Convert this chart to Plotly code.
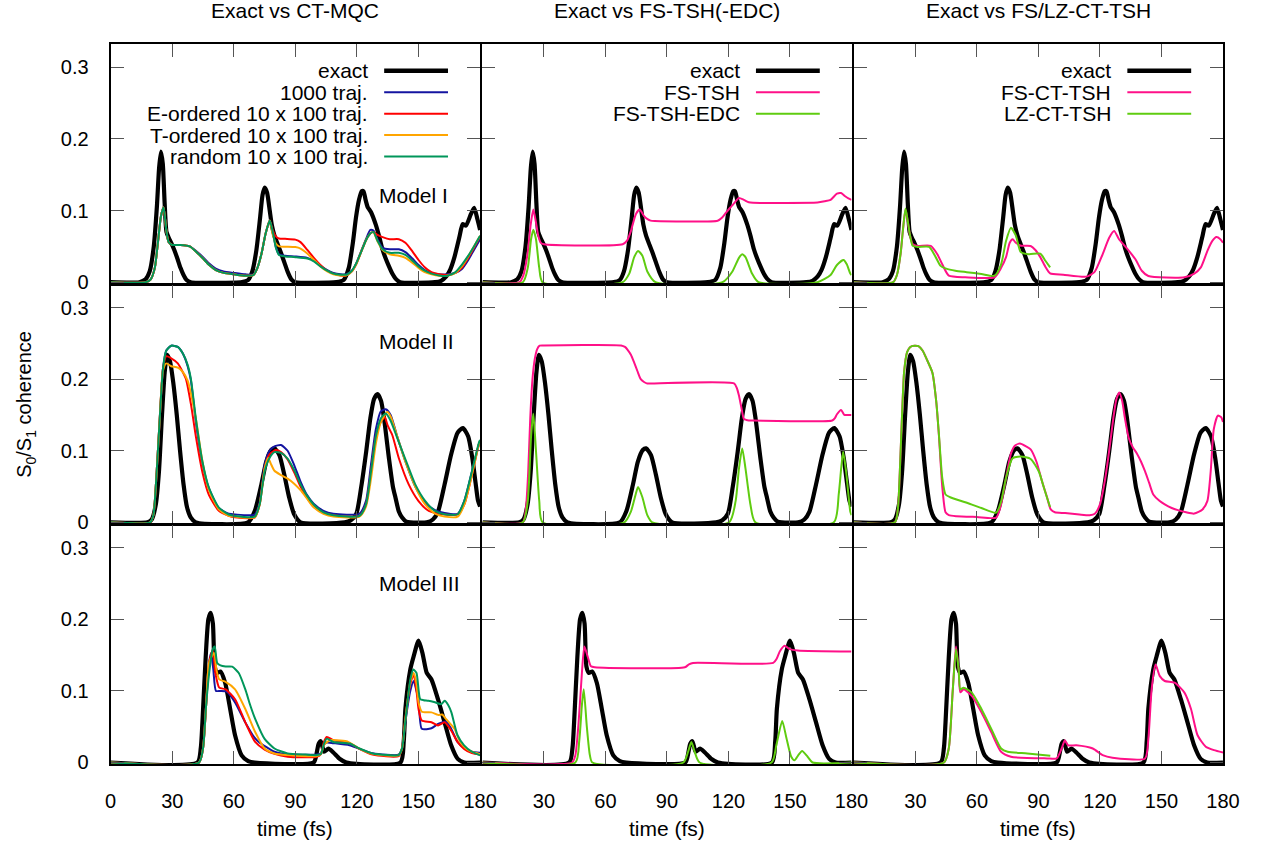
import plotly.graph_objects as go

# ---------------- data (time in fs, coherence) ----------------
X_TICKS = [0, 30, 60, 90, 120, 150, 180]
Y_TICKS = [0, 0.1, 0.2, 0.3]
Y_TICK_TEXT = ["0", "0.1", "0.2", "0.3"]
COL_TITLES = ["Exact vs CT-MQC", "Exact vs FS-TSH(-EDC)", "Exact vs FS/LZ-CT-TSH"]
MODEL_NAMES = ["Model I", "Model II", "Model III"]
LEGEND_COL1 = ["exact", "1000 traj.", "E-ordered 10 x 100 traj.", "T-ordered 10 x 100 traj.", "random 10 x 100 traj."]
LEGEND_COL2 = ["exact", "FS-TSH", "FS-TSH-EDC"]
LEGEND_COL3 = ["exact", "FS-CT-TSH", "LZ-CT-TSH"]

# ----- Model I -----
T_EXACT_1 = [0, 14, 17, 19, 21, 22.5, 23.6, 24.5, 25.4, 26.3, 27.2, 28.3, 29.5, 31, 32.5, 34, 35.5, 37, 39,
             64, 67, 69, 71, 72.8, 74, 75.1, 76.2, 77.5, 78.5, 79.8, 81.5, 83.1, 84.7, 86.3, 88, 90,
             110, 113.5, 116, 118, 119.5, 121, 122.3, 123.2, 124.2, 125.2, 126.8, 129.2, 130.8, 132.4, 134, 135.6, 137.2, 138.8, 141,
             158, 161, 163.5, 165.5, 167.5, 169.9, 171.5, 173.1, 175.5, 177.1, 178.7, 180]
Y_EXACT_1 = [0, 0, 0.004, 0.015, 0.05, 0.105, 0.16, 0.1825, 0.165, 0.11, 0.07, 0.062, 0.055, 0.045, 0.033, 0.02, 0.01, 0.003, 0,
             0, 0.003, 0.015, 0.045, 0.09, 0.122, 0.132, 0.125, 0.1, 0.08, 0.065, 0.052, 0.04, 0.027, 0.014, 0.004, 0,
             0, 0.003, 0.02, 0.055, 0.09, 0.115, 0.127, 0.127, 0.115, 0.105, 0.098, 0.08, 0.064, 0.046, 0.033, 0.022, 0.012, 0.005, 0,
             0, 0.002, 0.008, 0.018, 0.035, 0.063, 0.081, 0.079, 0.095, 0.104, 0.088, 0.073]

T_GREEN_1 = [0, 17, 19.5, 21.5, 23, 24.5, 25.8, 27, 28.2, 30, 34, 38.5, 41.5, 45, 48, 51.2, 55, 60, 65.6, 69.6,
             71.5, 73.5, 75.5, 77.5, 79, 80.5, 82, 85, 90, 95.8, 99, 102.2, 105.5, 108.5, 112, 114.9, 117.5, 119.6, 122, 124.4,
             126.5, 128, 130, 132.5, 136, 140.4, 143.6, 147, 150, 153, 156.3, 160, 164, 168, 171, 174, 177, 180]
Y_GREEN_1 = [0, 0, 0.004, 0.02, 0.055, 0.092, 0.1045, 0.075, 0.056, 0.052, 0.052, 0.05, 0.043, 0.033, 0.024, 0.017, 0.013, 0.011, 0.009, 0.01,
             0.02, 0.04, 0.068, 0.086, 0.07, 0.048, 0.038, 0.036, 0.035, 0.033, 0.029, 0.022, 0.016, 0.012, 0.0105, 0.0105, 0.016, 0.026, 0.042, 0.0587,
             0.068, 0.0702, 0.058, 0.046, 0.041, 0.041, 0.038, 0.03, 0.022, 0.016, 0.012, 0.0095, 0.009, 0.014, 0.024, 0.036, 0.05, 0.065]
T_BLUE_1 = T_GREEN_1
Y_BLUE_1 = [0, 0, 0.004, 0.02, 0.055, 0.092, 0.1045, 0.075, 0.056, 0.052, 0.052, 0.05, 0.044, 0.035, 0.026, 0.019, 0.015, 0.013, 0.011, 0.011,
            0.02, 0.04, 0.068, 0.086, 0.07, 0.049, 0.039, 0.037, 0.036, 0.034, 0.03, 0.023, 0.017, 0.013, 0.011, 0.011, 0.016, 0.026, 0.043, 0.06,
            0.073, 0.072, 0.06, 0.048, 0.046, 0.046, 0.042, 0.033, 0.024, 0.017, 0.013, 0.011, 0.011, 0.013, 0.018, 0.03, 0.045, 0.06]
T_RED_1 = [0, 17, 19.5, 21.5, 23, 24.5, 25.8, 27, 28.2, 30, 34, 38.5, 41.5, 45, 48, 51.2, 55, 60, 65.6, 69.6,
           71.5, 73.5, 75.5, 77.5, 79, 80.5, 82, 85, 90, 92.5, 95.8, 99, 102.2, 105.5, 108.5, 112, 114.9, 117.5, 119.6, 122,
           124.4, 126.5, 128, 130, 132.5, 136, 140.4, 143.6, 147, 150, 153, 156.3, 160, 164, 168, 171, 174, 177, 180]
Y_RED_1 = [0, 0, 0.004, 0.02, 0.055, 0.092, 0.1045, 0.075, 0.056, 0.052, 0.052, 0.05, 0.043, 0.033, 0.024, 0.017, 0.013, 0.011, 0.009, 0.01,
           0.02, 0.04, 0.068, 0.086, 0.072, 0.064, 0.061, 0.0605, 0.0595, 0.056, 0.045, 0.034, 0.024, 0.016, 0.012, 0.0095, 0.0095, 0.015, 0.025, 0.042,
           0.0587, 0.068, 0.0702, 0.066, 0.063, 0.06, 0.06, 0.055, 0.043, 0.031, 0.021, 0.014, 0.011, 0.01, 0.013, 0.02, 0.033, 0.048, 0.064]
T_ORANGE_1 = T_RED_1
Y_ORANGE_1 = [0, 0, 0.004, 0.02, 0.055, 0.092, 0.1045, 0.075, 0.056, 0.052, 0.052, 0.05, 0.043, 0.033, 0.024, 0.017, 0.013, 0.011, 0.009, 0.01,
              0.02, 0.04, 0.068, 0.086, 0.066, 0.054, 0.05, 0.0495, 0.049, 0.047, 0.04, 0.031, 0.022, 0.015, 0.011, 0.0095, 0.0095, 0.015, 0.025, 0.042,
              0.0587, 0.068, 0.07, 0.057, 0.045, 0.039, 0.037, 0.034, 0.027, 0.02, 0.014, 0.011, 0.009, 0.009, 0.013, 0.022, 0.035, 0.05, 0.065]

T_FS_1 = [0, 18, 20, 22, 23.5, 24.8, 26, 27.2, 28.5, 30, 68.4, 70.5, 72.4, 74.8, 76.7, 78.8, 80.5, 82, 84,
          114.7, 116.8, 118.7, 120.8, 122.7, 125.1, 127.5, 129.9, 132, 163.4, 167, 169.8, 172.9, 174.9, 176.9, 178.5, 180]
Y_FS_1 = [0, 0, 0.01, 0.04, 0.08, 0.1014, 0.085, 0.065, 0.055, 0.053, 0.053, 0.058, 0.0714, 0.095, 0.1014, 0.0922, 0.088, 0.086, 0.0855,
          0.0858, 0.09, 0.0968, 0.104, 0.110, 0.1176, 0.115, 0.1116, 0.111, 0.1112, 0.113, 0.115, 0.1236, 0.1245, 0.12, 0.117, 0.115]
T_EDC_1 = [0, 19.7, 22.1, 23.7, 24.8, 26.1, 27.7, 29.3, 68.4, 71.6, 74, 75.9, 78, 80.4, 84.4,
           117.1, 121.9, 125.1, 126.7, 128.3, 131.5, 134.6, 163.4, 169.8, 172.9, 176.1, 177.7, 179.4, 180]
Y_EDC_1 = [0, 0, 0.02, 0.06, 0.0734, 0.06, 0.02, 0, 0, 0.012, 0.035, 0.0437, 0.037, 0.015, 0,
           0, 0.015, 0.034, 0.0391, 0.035, 0.012, 0, 0, 0.01, 0.024, 0.031, 0.025, 0.012, 0.01]

T_FSCT_1 = [0, 19.2, 21, 22.8, 24, 25.2, 26.3, 27.4, 28.7, 31, 37.5, 40.7, 43.1, 46.3, 54.3, 68.6, 71.8, 74.2, 76, 77.4,
            79, 81.4, 86.2, 88.5, 90.9, 93.5, 95.7, 102.1, 113.3, 117.3, 121.3, 124.5, 126.9, 129.3, 132.5, 137.3, 140.4, 143.6, 161.2, 166,
            169.2, 172.4, 174.8, 176.8, 178.7, 180]
Y_FSCT_1 = [0, 0, 0.01, 0.04, 0.075, 0.1014, 0.085, 0.065, 0.053, 0.0507, 0.0507, 0.039, 0.025, 0.0091, 0.0069, 0.0069, 0.02, 0.035, 0.055, 0.06,
            0.055, 0.051, 0.0505, 0.045, 0.035, 0.021, 0.0123, 0.0105, 0.0078, 0.014, 0.039, 0.062, 0.0714, 0.06, 0.0493, 0.032, 0.016, 0.0086, 0.0069, 0.012,
            0.0207, 0.0437, 0.0576, 0.063, 0.06, 0.055]
T_LZCT_1 = [0, 19.2, 21, 22.8, 24, 25.2, 26.3, 27.4, 28.7, 31, 36.7, 39.9, 42.3, 45, 49.5, 55, 62.2, 68.6, 71.8, 74.2,
            76.6, 79, 81.4, 85.4, 90.9, 93.4, 95.7]
Y_LZCT_1 = [0, 0, 0.01, 0.04, 0.075, 0.1028, 0.085, 0.065, 0.0507, 0.0493, 0.0493, 0.035, 0.0228, 0.019, 0.016, 0.014, 0.0114, 0.0091, 0.025, 0.0576,
            0.076, 0.065, 0.042, 0.039, 0.04, 0.03, 0.0207]

# ----- Model II -----
T_EXACT_2 = [0, 18, 20, 22, 23.5, 25, 26.3, 27.5, 28.9, 30.5, 32.2, 33.8, 35.5, 37.2, 39, 41.5, 67, 70.2, 73.4, 75.8,
             78.2, 79.8, 82.2, 84.6, 87, 89.4, 92.5, 114, 117, 119.7, 122.1, 124.5, 126.5, 128.3, 130, 131.7, 133.2, 135.6, 137.5, 138.8,
             140.4, 142, 144, 146, 154, 157, 159.5, 162.7, 165.9, 169, 171.6, 174.2, 176.2, 177.8, 179, 180]
Y_EXACT_2 = [0, 0, 0.004, 0.025, 0.07, 0.15, 0.209, 0.234, 0.225, 0.195, 0.15, 0.1, 0.053, 0.021, 0.007, 0, 0, 0.0157, 0.0527, 0.0848,
             0.101, 0.1033, 0.094, 0.0665, 0.0343, 0.0113, 0, 0, 0.003, 0.012, 0.05, 0.099, 0.145, 0.172, 0.179, 0.17, 0.145, 0.089, 0.05, 0.034,
             0.015, 0.0067, 0.001, 0, 0, 0.004, 0.015, 0.053, 0.095, 0.125, 0.1317, 0.12, 0.09, 0.055, 0.03, 0.022]

T_GREEN_2 = [0, 19.2, 20.8, 22.4, 24, 25.5, 27.1, 29.5, 32.7, 35.1, 37.5, 39.1, 41.5, 44.7, 47.9, 52.7, 57.5, 60.6, 70.2, 72.6,
             75, 77.4, 79.8, 83, 86.2, 89.4, 92.5, 95.7, 98.9, 103.7, 108.5, 121.2, 124.4, 126.8, 129.2, 131.6, 134, 136.4, 139.6, 143.6,
             148.4, 153.2, 158, 162.7, 169.1, 172.3, 175.5, 179.5, 180]
Y_GREEN_2 = [0, 0, 0.01, 0.07, 0.15, 0.215, 0.24, 0.2467, 0.245, 0.236, 0.22, 0.2, 0.145, 0.085, 0.048, 0.0205, 0.011, 0.009, 0.008, 0.025,
             0.071, 0.09, 0.098, 0.097, 0.089, 0.073, 0.053, 0.037, 0.025, 0.014, 0.01, 0.009, 0.025, 0.07, 0.12, 0.145, 0.152, 0.142, 0.118, 0.088,
             0.053, 0.03, 0.016, 0.0113, 0.0113, 0.03, 0.065, 0.112, 0.115]
T_BLUE_2 = T_GREEN_2
Y_BLUE_2 = [0, 0, 0.01, 0.07, 0.15, 0.215, 0.24, 0.2467, 0.245, 0.236, 0.218, 0.198, 0.14, 0.082, 0.047, 0.02, 0.012, 0.011, 0.011, 0.028,
            0.08, 0.1, 0.106, 0.108, 0.1, 0.08, 0.057, 0.038, 0.026, 0.016, 0.012, 0.012, 0.03, 0.08, 0.13, 0.155, 0.158, 0.15, 0.12, 0.085,
            0.05, 0.028, 0.017, 0.013, 0.012, 0.03, 0.065, 0.11, 0.113]
T_RED_2 = [0, 19.2, 20.8, 22.4, 24, 25.5, 27.1, 29.5, 32.7, 35.1, 36.7, 39.1, 41.5, 44.7, 47.9, 52.7, 57.5, 60.6, 70.2, 72.6,
           75, 77.4, 80.5, 83, 86.2, 89.4, 92.5, 95.7, 98.9, 103.7, 108.5, 121.2, 124.4, 126.8, 129.2, 131.6, 133.5, 135, 137.2, 140.4,
           145.2, 150, 155, 162.7, 169.1, 172.3, 175.5, 179.5, 180]
Y_RED_2 = [0, 0, 0.01, 0.07, 0.15, 0.215, 0.232, 0.229, 0.222, 0.21, 0.2, 0.165, 0.12, 0.07, 0.038, 0.016, 0.009, 0.007, 0.007, 0.025,
           0.075, 0.095, 0.101, 0.098, 0.088, 0.07, 0.05, 0.034, 0.022, 0.013, 0.01, 0.009, 0.025, 0.07, 0.12, 0.14, 0.147, 0.135, 0.122, 0.0895,
           0.053, 0.0297, 0.016, 0.011, 0.011, 0.025, 0.06, 0.11, 0.113]
T_ORANGE_2 = [0, 19.2, 20.8, 22.4, 24, 25.5, 27.1, 29.5, 32.7, 35.1, 37.5, 39.1, 41.5, 44.7, 47.9, 52.7, 57.5, 60.6, 70.2, 72.6,
              75, 76.7, 78, 79.8, 83, 86.2, 89.4, 92.5, 95.7, 98.9, 103.7, 108.5, 121.2, 124.4, 126.8, 129.2, 131.6, 134.8, 136.4, 139.6,
              143.6, 148.4, 153.2, 158, 162.7, 169.1, 172.3, 175.5, 179.5, 180]
Y_ORANGE_2 = [0, 0, 0.01, 0.07, 0.15, 0.212, 0.222, 0.218, 0.216, 0.21, 0.198, 0.18, 0.145, 0.085, 0.045, 0.018, 0.009, 0.008, 0.007, 0.025,
              0.075, 0.09, 0.082, 0.072, 0.066, 0.061, 0.054, 0.045, 0.033, 0.021, 0.012, 0.008, 0.008, 0.022, 0.06, 0.11, 0.14, 0.154, 0.148, 0.12,
              0.085, 0.05, 0.025, 0.012, 0.008, 0.008, 0.025, 0.06, 0.11, 0.113]

T_FS_2 = [0, 19.7, 21.2, 22.3, 23.3, 24.4, 25.5, 26.7, 27.9, 30, 67.6, 69.5, 70.8, 72.4, 74, 75.6, 77.2, 78.8, 80.4, 82.5,
          122.7, 124, 125.1, 126.3, 127.5, 128.7, 129.9, 132, 170.6, 172, 172.9, 174.9, 176.5, 178, 180]
Y_FS_2 = [0, 0, 0.02, 0.07, 0.145, 0.2, 0.228, 0.242, 0.2467, 0.247, 0.247, 0.245, 0.241, 0.234, 0.223, 0.211, 0.2, 0.196, 0.1939, 0.194,
          0.194, 0.188, 0.177, 0.16, 0.1446, 0.143, 0.1423, 0.1423, 0.1423, 0.146, 0.151, 0.157, 0.1502, 0.15, 0.15]
T_EDC_2 = [0, 19.7, 22.1, 23.7, 24.8, 26.1, 27.7, 29.3, 69.2, 72.4, 74.8, 75.9, 78, 80.4, 82.8,
           120.3, 123.5, 125.1, 126.7, 128.3, 130.7, 133.1, 171.4, 173.8, 175.9, 177.4, 179.4, 180]
Y_EDC_2 = [0, 0, 0.03, 0.12, 0.1516, 0.1, 0.03, 0, 0, 0.015, 0.04, 0.0495, 0.035, 0.01, 0,
           0, 0.03, 0.075, 0.1033, 0.075, 0.025, 0, 0, 0.04, 0.0986, 0.07, 0.015, 0.01]

T_FSCT_2 = [0, 20, 21.5, 22.4, 23.5, 24.5, 26, 27.5, 29.5, 31.5, 33.5, 35.5, 38.3, 40.2, 41.5, 43.1, 44.7, 46.3, 50, 60,
            69.4, 71.8, 74.2, 76.5, 78.5, 81, 84, 86.2, 89, 92, 94.2, 96, 98, 103, 110, 115, 117.5, 120, 122.5, 124.5,
            126.5, 128, 129.4, 130.8, 132.2, 134.1, 136, 138, 140, 142, 144, 146, 149, 151.6, 155, 158, 162, 166, 170, 172.4,
            174, 175.5, 177.5, 179.1, 180]
Y_FSCT_2 = [0, 0, 0.02, 0.07, 0.15, 0.21, 0.238, 0.245, 0.2467, 0.246, 0.24, 0.228, 0.209, 0.168, 0.12, 0.05, 0.014, 0.01, 0.0085, 0.0075,
            0.0067, 0.025, 0.062, 0.095, 0.107, 0.11, 0.106, 0.102, 0.085, 0.055, 0.035, 0.018, 0.014, 0.013, 0.011, 0.01, 0.012, 0.025, 0.06, 0.1,
            0.145, 0.172, 0.1815, 0.17, 0.145, 0.117, 0.105, 0.0962, 0.085, 0.0711, 0.055, 0.0389, 0.03, 0.025, 0.02, 0.017, 0.014, 0.0122, 0.018, 0.03,
            0.071, 0.13, 0.149, 0.147, 0.14]
T_LZCT_2 = [0, 20, 21.5, 22.4, 23.5, 24.5, 26, 27.5, 29.5, 31.5, 33.5, 35.5, 38.3, 40.2, 41.5, 43.1, 44.7, 47, 54.3, 62.2,
            69.4, 71.8, 74.2, 77.4, 81.4, 86.2, 90.2, 92.5, 94.2, 95.7]
Y_LZCT_2 = [0, 0, 0.02, 0.07, 0.15, 0.21, 0.238, 0.245, 0.2467, 0.246, 0.24, 0.228, 0.209, 0.168, 0.122, 0.062, 0.0389, 0.035, 0.028, 0.02,
            0.0136, 0.029, 0.062, 0.0895, 0.0918, 0.0885, 0.071, 0.05, 0.0343, 0.0214]

# ----- Model III -----
T_EXACT_3 = [0, 42.3, 43.9, 44.7, 46.3, 47.6, 48.7, 49.8, 50.7, 51.9, 53.5, 55.8, 58.2, 60.6, 63.8, 67, 70.2, 98.9, 100.5, 101.3,
             102.4, 104, 106.1, 108.5, 111.7, 114.9, 141.2, 142.8, 143.6, 146, 147.6, 150, 151.9, 154, 156.3, 159.5, 162.7, 165.9, 169.1, 172.3, 180]
Y_EXACT_3 = [0, 0, 0.02, 0.056, 0.148, 0.2, 0.209, 0.194, 0.134, 0.125, 0.127, 0.111, 0.075, 0.038, 0.01, 0.002, 0, 0, 0.015, 0.026,
             0.0297, 0.015, 0.0195, 0.014, 0.0048, 0, 0, 0.03, 0.075, 0.13, 0.148, 0.1703, 0.153, 0.125, 0.116, 0.088, 0.056, 0.024, 0.005, 0, 0]

T_GREEN_3 = [0, 43, 45, 46.5, 48, 49.6, 50.7, 51.9, 53.5, 56, 59.2, 62.4, 65.6, 68, 70.4, 75, 79.8, 86.2, 95, 100.5,
             102.5, 103.8, 105.3, 108.5, 116.4, 121.2, 127.6, 135, 140.3, 142, 143.5, 146, 147.5, 149, 150.8, 152.5, 154.8, 158, 161.1, 162.7,
             164.5, 166, 169, 172.2, 176, 180]
Y_GREEN_3 = [0, 0, 0.02, 0.08, 0.125, 0.157, 0.162, 0.139, 0.1355, 0.134, 0.1338, 0.125, 0.102, 0.08, 0.061, 0.033, 0.0195, 0.0126, 0.011, 0.0103,
             0.012, 0.025, 0.0333, 0.0287, 0.0264, 0.0195, 0.0126, 0.0105, 0.0103, 0.02, 0.056, 0.116, 0.1298, 0.125, 0.0884, 0.087, 0.0861, 0.084, 0.0815, 0.0861,
             0.08, 0.07, 0.038, 0.024, 0.015, 0.01]
T_BLUE_3 = [0, 43, 45, 46.5, 48, 48.9, 50, 51.3, 53.5, 56.5, 60.6, 65.6, 70, 72, 79.8, 86.2, 100.5, 102.5, 103.8, 105.3,
            108.5, 116.4, 121.2, 127.6, 140.3, 142, 143.5, 146, 147.6, 149, 150, 151.6, 156.3, 159.5, 163.5, 165.9, 169, 172.2, 176, 180]
Y_BLUE_3 = [0, 0, 0.02, 0.08, 0.14, 0.153, 0.13, 0.1, 0.1, 0.099, 0.084, 0.056, 0.035, 0.029, 0.015, 0.0112, 0.0112, 0.013, 0.025, 0.028,
            0.027, 0.024, 0.019, 0.013, 0.011, 0.02, 0.055, 0.1, 0.1138, 0.1, 0.088, 0.047, 0.0479, 0.0538, 0.0571, 0.047, 0.0287, 0.02, 0.015, 0.0135]
T_RED_3 = [0, 43, 45, 46.5, 48, 49.7, 51, 52.9, 56, 60.6, 65.6, 70.4, 75, 79.8, 86.2, 100.5, 102.5, 103.8, 105.3, 108.5,
           116.4, 121.2, 127.6, 140.3, 142, 143.5, 146, 147.6, 149, 150, 151.6, 156.3, 159.5, 162.7, 165.9, 169, 172.2, 176, 180]
Y_RED_3 = [0, 0, 0.02, 0.08, 0.14, 0.157, 0.125, 0.1045, 0.1022, 0.0884, 0.056, 0.0287, 0.018, 0.012, 0.0081, 0.008, 0.012, 0.028, 0.0356, 0.031,
           0.027, 0.019, 0.011, 0.009, 0.02, 0.06, 0.11, 0.1229, 0.1, 0.0747, 0.0585, 0.0562, 0.0516, 0.0562, 0.0447, 0.0287, 0.019, 0.013, 0.011]
T_ORANGE_3 = [0, 43, 45, 46.5, 48, 50.4, 51.5, 52.9, 56, 60.6, 65.6, 70.4, 75, 79.8, 86.2, 100.5, 102.5, 104, 106.9, 110,
              114.9, 118, 121.2, 127.6, 140.3, 142, 143.5, 146, 147.6, 149, 150, 151.6, 156.3, 159.5, 161.5, 163, 167.5, 170, 173, 176, 180]
Y_ORANGE_3 = [0, 0, 0.02, 0.08, 0.14, 0.153, 0.13, 0.116, 0.1127, 0.1022, 0.0747, 0.0425, 0.0195, 0.0125, 0.0103, 0.009, 0.012, 0.025, 0.031, 0.031,
              0.0297, 0.025, 0.0195, 0.012, 0.01, 0.02, 0.058, 0.113, 0.125, 0.11, 0.0838, 0.0709, 0.07, 0.0665, 0.067, 0.062, 0.047, 0.03, 0.02, 0.015, 0.0115]

T_FS_3 = [0, 43.7, 45.3, 46.9, 48.5, 49.7, 51.3, 52.9, 54.8, 98.7, 100.7, 102.7, 141.8, 143.5, 145, 147.4, 149.8, 153.8, 180]
Y_FS_3 = [0, 0, 0.01, 0.0562, 0.125, 0.162, 0.148, 0.1344, 0.133, 0.133, 0.137, 0.139, 0.139, 0.145, 0.1551, 0.163, 0.1583, 0.1565, 0.1551]
T_EDC_3 = [0, 45.3, 47.2, 48.5, 49.4, 50.9, 52.4, 53.6, 98, 100.3, 101.9, 103.5, 105.9,
           141, 143.4, 146.2, 148.2, 150.6, 152.2, 154, 155.9, 158.6, 161, 180]
Y_EDC_3 = [0, 0, 0.03, 0.08, 0.1023, 0.05, 0.01, 0, 0, 0.015, 0.0286, 0.015, 0,
           0, 0.025, 0.058, 0.035, 0.008, 0.003, 0.01, 0.016, 0.008, 0, 0]

T_FSCT_3 = [0, 43.9, 46.3, 48.2, 49.8, 51.1, 51.9, 53.5, 57.5, 62.2, 67, 71.8, 76.6, 94.2, 98.9, 101.3, 102.9, 104.5, 108.5, 116.5,
            121.3, 126.1, 142, 143.6, 145.2, 147.1, 149.2, 151.6, 156.4, 161.2, 164.4, 167.6, 171.6, 175.6, 180]
Y_FSCT_3 = [0, 0, 0.02, 0.1, 0.162, 0.13, 0.098, 0.1022, 0.093, 0.07, 0.0424, 0.0149, 0.008, 0.0057, 0.0057, 0.0195, 0.031, 0.024, 0.024, 0.0195,
            0.0103, 0.0066, 0.0057, 0.033, 0.1022, 0.1367, 0.1206, 0.1138, 0.1115, 0.0976, 0.0747, 0.038, 0.022, 0.0172, 0.014]
T_LZCT_3 = [0, 43.9, 46.3, 48.2, 49.8, 51.1, 51.9, 53.5, 57.5, 62.2, 67, 71.8, 75, 84.6, 95.8]
Y_LZCT_3 = [0, 0, 0.02, 0.1, 0.158, 0.13, 0.1022, 0.1045, 0.0976, 0.0747, 0.047, 0.0195, 0.0149, 0.0126, 0.0094]

# ---------------- styling ----------------
BLACK = "#000000"
BLUE = "#1414a0"
RED = "#ff0000"
ORANGE = "#ffa500"
GREEN = "#00965a"
PINK = "#ff1088"
LGREEN = "#5fcc10"
W_EXACT = 4.2
W_LINE = 2.0
FONT = "Liberation Sans, Arial, sans-serif"

W, H = 1278, 851
COL_PX = [(106.6, 482.8), (485.2, 861.0), (863.4, 1239.3)]
ROW_PX = [(45, 287), (288, 530), (531, 773)]
XR = [0, 180]
YR = [-0.002, 0.332]

EXACT = [(T_EXACT_1, Y_EXACT_1), (T_EXACT_2, Y_EXACT_2), (T_EXACT_3, Y_EXACT_3)]
CTMQC = [
    [(T_BLUE_1, Y_BLUE_1, BLUE), (T_RED_1, Y_RED_1, RED), (T_ORANGE_1, Y_ORANGE_1, ORANGE), (T_GREEN_1, Y_GREEN_1, GREEN)],
    [(T_BLUE_2, Y_BLUE_2, BLUE), (T_RED_2, Y_RED_2, RED), (T_ORANGE_2, Y_ORANGE_2, ORANGE), (T_GREEN_2, Y_GREEN_2, GREEN)],
    [(T_BLUE_3, Y_BLUE_3, BLUE), (T_RED_3, Y_RED_3, RED), (T_ORANGE_3, Y_ORANGE_3, ORANGE), (T_GREEN_3, Y_GREEN_3, GREEN)],
]
FSTSH = [
    [(T_FS_1, Y_FS_1, PINK), (T_EDC_1, Y_EDC_1, LGREEN)],
    [(T_FS_2, Y_FS_2, PINK), (T_EDC_2, Y_EDC_2, LGREEN)],
    [(T_FS_3, Y_FS_3, PINK), (T_EDC_3, Y_EDC_3, LGREEN)],
]
CTTSH = [
    [(T_FSCT_1, Y_FSCT_1, PINK), (T_LZCT_1, Y_LZCT_1, LGREEN)],
    [(T_FSCT_2, Y_FSCT_2, PINK), (T_LZCT_2, Y_LZCT_2, LGREEN)],
    [(T_FSCT_3, Y_FSCT_3, PINK), (T_LZCT_3, Y_LZCT_3, LGREEN)],
]
METHODS = [CTMQC, FSTSH, CTTSH]

fig = go.Figure()
layout = {}


def px2x(px):
    return px / W


def px2y(py):
    return 1 - py / H


for r in range(3):
    for c in range(3):
        idx = r * 3 + c + 1
        sfx = "" if idx == 1 else str(idx)
        xref, yref = "x" + sfx, "y" + sfx
        x0, x1 = COL_PX[c]
        y0, y1 = ROW_PX[r]
        xv = X_TICKS if c == 0 else X_TICKS[1:]
        layout["xaxis" + sfx] = dict(
            domain=[px2x(x0), px2x(x1)], range=XR, anchor=yref,
            tickvals=xv, ticktext=[str(v) for v in xv], showticklabels=(r == 2),
            ticks="inside", ticklen=13, tickwidth=1, tickcolor="#555555",
            showline=True, linecolor="black", linewidth=2, mirror="allticks",
            showgrid=False, zeroline=False, ticklabelstandoff=18,
            tickfont=dict(family=FONT, size=20, color="black"),
        )
        layout["yaxis" + sfx] = dict(
            domain=[px2y(y1), px2y(y0)], range=YR, anchor=xref,
            tickvals=Y_TICKS, ticktext=Y_TICK_TEXT, showticklabels=(c == 0),
            ticks="inside", ticklen=13, tickwidth=1, tickcolor="#555555",
            showline=True, linecolor="black", linewidth=2, mirror="allticks",
            showgrid=False, zeroline=False, ticklabelstandoff=16,
            tickfont=dict(family=FONT, size=20, color="black"),
        )
        te, ye = EXACT[r]
        assert len(te) == len(ye)
        fig.add_trace(go.Scatter(x=te, y=ye, mode="lines", xaxis=xref, yaxis=yref, showlegend=False,
                                 line=dict(color=BLACK, width=W_EXACT, shape="spline", smoothing=0.6),
                                 hoverinfo="skip"))
        for (tt, yy, col) in METHODS[c][r]:
            assert len(tt) == len(yy), (r, c, len(tt), len(yy))
            fig.add_trace(go.Scatter(x=tt, y=yy, mode="lines", xaxis=xref, yaxis=yref, showlegend=False,
                                     line=dict(color=col, width=W_LINE, shape="spline", smoothing=0.6),
                                     hoverinfo="skip"))

annotations = []
shapes = []
# column titles and x labels
for c in range(3):
    xc = (COL_PX[c][0] + COL_PX[c][1]) / 2
    annotations.append(dict(text=COL_TITLES[c], x=px2x(xc), y=1, xref="paper", yref="paper",
                            xanchor="center", yanchor="top", yshift=3, showarrow=False,
                            font=dict(family=FONT, size=21, color="black")))
    annotations.append(dict(text="time (fs)", x=px2x(xc), y=px2y(838), xref="paper", yref="paper",
                            xanchor="center", yanchor="middle", showarrow=False,
                            font=dict(family=FONT, size=21, color="black")))
annotations.append(dict(text="S<sub>0</sub>/S<sub>1</sub> coherence", x=px2x(20), y=px2y(409),
                        xref="paper", yref="paper", textangle=-90, xanchor="center", yanchor="middle",
                        showarrow=False, font=dict(family=FONT, size=20, color="black")))
# model labels
MODEL_PY = [198, 346, 590]
for r in range(3):
    annotations.append(dict(text=MODEL_NAMES[r], x=px2x(COL_PX[0][0] + 271.4), y=px2y(MODEL_PY[r]),
                            xref="paper", yref="paper", xanchor="left", yanchor="middle", showarrow=False,
                            font=dict(family=FONT, size=21, color="black")))
# legends (gnuplot style: text right, sample line after)
LEG = [
    (LEGEND_COL1, [BLACK, BLUE, RED, ORANGE, GREEN]),
    (LEGEND_COL2, [BLACK, PINK, LGREEN]),
    (LEGEND_COL3, [BLACK, PINK, LGREEN]),
]
for c in range(3):
    labels, colors = LEG[c]
    left = COL_PX[c][0]
    for i, (lab, colr) in enumerate(zip(labels, colors)):
        py = 71.7 + i * 21.65
        annotations.append(dict(text=lab, x=px2x(left + 264), y=px2y(py), xref="paper", yref="paper",
                                xanchor="right", yanchor="middle", showarrow=False,
                                font=dict(family=FONT, size=21, color="black")))
        shapes.append(dict(type="line", xref="paper", yref="paper",
                           x0=px2x(left + 278.5), x1=px2x(left + 343.5), y0=px2y(py), y1=px2y(py),
                           line=dict(color=colr, width=(4.5 if i == 0 else 2))))

layout.update(dict(width=W, height=H, autosize=False, margin=dict(l=0, r=0, t=0, b=0),
                   paper_bgcolor="white", plot_bgcolor="white", showlegend=False,
                   annotations=annotations, shapes=shapes,
                   font=dict(family=FONT, size=20, color="black")))
fig.update_layout(**layout)
fig.write_html("out.html", config={"displayModeBar": False},
               post_script="document.body.style.margin='0';document.body.style.overflow='hidden';")
